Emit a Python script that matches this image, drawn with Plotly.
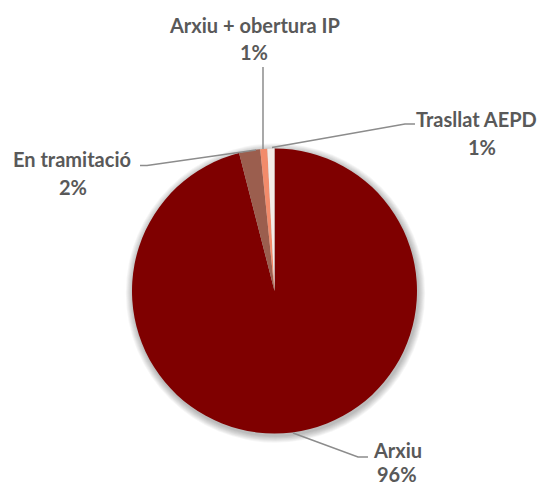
import math
import plotly.graph_objects as go

# ---- data ----
categories = ["Arxiu", "En tramitació", "Arxiu + obertura IP", "Trasllat AEPD"]
values = [96.0, 2.4, 0.8, 0.8]
colors = ["#7F0000", "#9B5E4E", "#F28B6B", "#F4ECE8"]

W, H = 546, 485
CX, CY, R = 274.5, 291.0, 142.5  # pie centre / radius in px


def px(x):
    return x / W


def py(y):
    return 1 - y / H


fig = go.Figure()
fig.add_trace(go.Pie(
    labels=categories,
    values=values,
    sort=False,
    direction="clockwise",
    rotation=0,
    marker=dict(colors=colors, line=dict(width=0)),
    textinfo="none",
    hoverinfo="label+percent",
    showlegend=False,
    domain=dict(x=[px(CX - R), px(CX + R)], y=[py(CY + R), py(CY - R)]),
))

shapes = []
# soft shadow behind the pie
for i in range(8, 0, -1):
    rr = R + i * 0.9
    shapes.append(dict(type="circle", xref="paper", yref="paper", layer="below",
                       x0=px(CX + 1 - rr), x1=px(CX + 1 + rr),
                       y0=py(CY + 2 + rr), y1=py(CY + 2 - rr),
                       fillcolor="rgba(0,0,0,0.035)", line=dict(width=0)))

total = sum(values)
pct = [f"{round(v / total * 100)}%" for v in values]

# label layout (px) and leader line paths (px)
label_pos = {
    "Arxiu": ((397.5, 449.5), (397, 474)),
    "En tramitació": ((72, 159), (73, 187)),
    "Arxiu + obertura IP": ((254.5, 24.5), (254, 52)),
    "Trasllat AEPD": ((476.5, 119), (482, 147)),
}
leaders = {
    "Arxiu": [(293, 433), (358, 457), (368, 457)],
    "En tramitació": [(140, 165.5), (147, 165.5), (256, 150)],
    "Arxiu + obertura IP": [(263, 67), (263, 149)],
    "Trasllat AEPD": [(415, 124), (405, 124), (272, 147.5)],
}

for cat, p in zip(categories, pct):
    path = leaders[cat]
    d = "M " + " L ".join(f"{px(x):.5f},{py(y):.5f}" for x, y in path)
    shapes.append(dict(type="path", xref="paper", yref="paper", path=d,
                       line=dict(color="#8C8C8C", width=1.5)))

annotations = []
font = dict(family="Lato, 'Liberation Sans', sans-serif", size=20, color="#595959", weight="bold")
for cat, p in zip(categories, pct):
    (nx, ny), (qx, qy) = label_pos[cat]
    annotations.append(dict(text=cat, x=px(nx), y=py(ny), xref="paper", yref="paper",
                            showarrow=False, xanchor="center", yanchor="middle", font=font))
    annotations.append(dict(text=p, x=px(qx), y=py(qy), xref="paper", yref="paper",
                            showarrow=False, xanchor="center", yanchor="middle", font=font))

fig.update_layout(
    width=W, height=H,
    margin=dict(l=0, r=0, t=0, b=0),
    paper_bgcolor="white",
    plot_bgcolor="white",
    shapes=shapes,
    annotations=annotations,
)

fig.write_html("out.html",
               config={"displayModeBar": False},
               post_script="document.body.style.margin='0';document.body.style.overflow='hidden';")
